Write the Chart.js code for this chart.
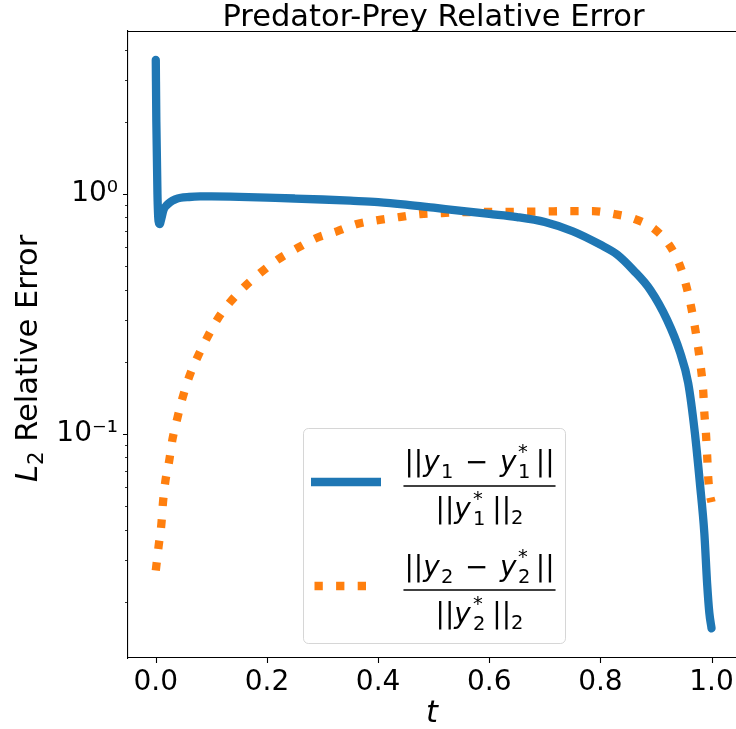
<!DOCTYPE html>
<html lang="en">
<head>
<meta charset="UTF-8" />
<title>Predator-Prey Relative Error</title>
<script src="https://cdn.jsdelivr.net/npm/chart.js@4.4.0/dist/chart.umd.min.js"></script>
<style>
  html, body { margin: 0; padding: 0; background: #fff; overflow: hidden; }
</style>
</head>
<body>
<canvas id="chart" width="736" height="729"></canvas>
<script>
// values
const tPrey = [0, 0.001, 0.003, 0.005, 0.007, 0.01, 0.014, 0.02, 0.026, 0.035, 0.045, 0.06, 0.08, 0.1, 0.15, 0.2, 0.25, 0.3, 0.35, 0.4, 0.45, 0.5, 0.55, 0.6, 0.65, 0.7, 0.75, 0.8, 0.83, 0.86, 0.89, 0.92, 0.943, 0.958, 0.97, 0.979, 0.987, 0.992, 0.996, 1.0];
const errPrey = [3.62, 2.0, 1.0, 0.77, 0.75, 0.79, 0.86, 0.9, 0.926, 0.95, 0.965, 0.972, 0.977, 0.978, 0.974, 0.966, 0.958, 0.949, 0.938, 0.926, 0.904, 0.877, 0.85, 0.826, 0.802, 0.765, 0.7, 0.615, 0.56, 0.48, 0.398, 0.299, 0.22, 0.163, 0.101, 0.0625, 0.0387, 0.0239, 0.018, 0.0155];

const tPred = [0, 0.005, 0.01, 0.013, 0.017, 0.024, 0.03, 0.039, 0.048, 0.06, 0.075, 0.092, 0.111, 0.134, 0.161, 0.19, 0.221, 0.255, 0.289, 0.327, 0.362, 0.4, 0.438, 0.476, 0.515, 0.555, 0.6, 0.65, 0.7, 0.747, 0.787, 0.825, 0.862, 0.897, 0.924, 0.942, 0.954, 0.963, 0.97, 0.976, 0.981, 0.985, 0.987, 0.99, 0.992, 0.994, 0.997, 1.0];
const errPred = [0.027, 0.034, 0.042, 0.052, 0.063, 0.077, 0.095, 0.117, 0.141, 0.173, 0.209, 0.251, 0.301, 0.355, 0.414, 0.473, 0.536, 0.596, 0.656, 0.701, 0.75, 0.779, 0.802, 0.825, 0.833, 0.841, 0.842, 0.843, 0.846, 0.849, 0.849, 0.825, 0.787, 0.715, 0.613, 0.511, 0.418, 0.341, 0.279, 0.228, 0.187, 0.151, 0.123, 0.1, 0.082, 0.066, 0.056, 0.052];

const xTicks = [0, 0.2, 0.4, 0.6, 0.8, 1.0];
const yMajor = [0.1, 1];
const yMinor = [0.02, 0.03, 0.04, 0.05, 0.06, 0.07, 0.08, 0.09, 0.2, 0.3, 0.4, 0.5, 0.6, 0.7, 0.8, 0.9, 2, 3, 4];
const yLabels = { 1: '10\u2070', 0.1: '10\u207B\u00B9' };

const BLUE = '#1f77b4';
const ORANGE = '#ff7f0e';
const FONT = '"DejaVu Sans", sans-serif';

function toPoints(xs, ys) {
  return xs.map((x, i) => ({ x: x, y: ys[i] }));
}

function font(px, italic) {
  return (italic ? 'italic ' : '') + px + 'px ' + FONT;
}

// little mathtext-ish text runs: plain, italic, sub/sup, stacked sub+sup, gaps
function runWidth(ctx, r, size) {
  if (r.gap) return r.gap * size;
  if (r.sup !== undefined) {
    ctx.font = font(size * 0.7);
    return Math.max(ctx.measureText(r.sup).width, ctx.measureText(r.sub).width);
  }
  ctx.font = font(size * (r.k || 1), r.it);
  return ctx.measureText(r.t).width;
}

function drawRuns(ctx, runs, x0, base, size, align) {
  const ws = runs.map(r => runWidth(ctx, r, size));
  const total = ws.reduce((a, b) => a + b, 0);
  let x = align === 'center' ? x0 - total / 2 : x0;
  ctx.textAlign = 'left';
  ctx.textBaseline = 'alphabetic';
  runs.forEach((r, i) => {
    if (r.sup !== undefined) {
      ctx.font = font(size * 0.7);
      ctx.fillText(r.sup, x, base - size * 0.46);
      ctx.fillText(r.sub, x, base + size * 0.26);
    } else if (!r.gap) {
      ctx.font = font(size * (r.k || 1), r.it);
      ctx.fillText(r.t, x, base + (r.dy || 0) * size);
    }
    x += ws[i];
  });
  return total;
}

function numRuns(n) {
  return [{ t: '||' }, { t: 'y', it: true }, { gap: 0.05 }, { t: n, k: 0.7, dy: 0.26 }, { gap: 0.42 }, { t: '\u2212' }, { gap: 0.42 }, { t: 'y', it: true }, { gap: 0.05 }, { sup: '*', sub: n }, { gap: 0.2 }, { t: '||' }];
}
function denRuns(n) {
  return [{ t: '||' }, { t: 'y', it: true }, { gap: 0.08 }, { sup: '*', sub: n }, { gap: 0.25 }, { t: '||' }, { t: '2', k: 0.7, dy: 0.2 }];
}

const legendItems = [
  { color: BLUE, dash: [], num: numRuns('1'), den: denRuns('1'), handleY: 482, numBase: 471, barY: 486, denBase: 518 },
  { color: ORANGE, dash: [8.3, 13.3], num: numRuns('2'), den: denRuns('2'), handleY: 586, numBase: 576, barY: 590, denBase: 623 }
];

const decorPlugin = {
  id: 'decor',
  afterDraw(chart) {
    const { ctx, chartArea: a, scales: { x, y } } = chart;
    ctx.save();
    ctx.fillStyle = '#000';
    ctx.strokeStyle = '#000';

    // title
    ctx.font = font(30.5);
    ctx.textAlign = 'center';
    ctx.textBaseline = 'alphabetic';
    ctx.fillText('Predator-Prey Relative Error', (a.left + 739) / 2, 26);

    // top spine
    ctx.lineWidth = 1.1;
    ctx.beginPath();
    ctx.moveTo(a.left, a.top + 0.5);
    ctx.lineTo(a.right, a.top + 0.5);
    ctx.stroke();

    // tick marks
    ctx.beginPath();
    xTicks.forEach(v => {
      const px = Math.round(x.getPixelForValue(v)) + 0.5;
      ctx.moveTo(px, a.bottom);
      ctx.lineTo(px, a.bottom + 5);
    });
    yMajor.forEach(v => {
      const py = Math.round(y.getPixelForValue(v)) + 0.5;
      ctx.moveTo(a.left, py);
      ctx.lineTo(a.left - 5, py);
    });
    ctx.stroke();
    ctx.lineWidth = 0.8;
    ctx.beginPath();
    yMinor.forEach(v => {
      const py = Math.round(y.getPixelForValue(v)) + 0.5;
      ctx.moveTo(a.left, py);
      ctx.lineTo(a.left - 3, py);
    });
    ctx.stroke();

    // y axis label with subscript
    ctx.save();
    ctx.translate(37, 482);
    ctx.rotate(-Math.PI / 2);
    drawRuns(ctx, [{ t: 'L', it: true }, { t: '2', k: 0.7, dy: 0.2 }, { t: ' Relative Error' }], 0, 0, 30.5, 'left');
    ctx.restore();

    // legend
    ctx.fillStyle = 'rgba(255,255,255,0.8)';
    ctx.strokeStyle = 'rgba(204,204,204,0.8)';
    ctx.lineWidth = 1;
    ctx.beginPath();
    ctx.roundRect(303.5, 428.5, 262, 215, 5);
    ctx.fill();
    ctx.stroke();

    legendItems.forEach(it => {
      ctx.strokeStyle = it.color;
      ctx.lineWidth = 8.3;
      ctx.lineCap = 'butt';
      ctx.setLineDash(it.dash);
      ctx.beginPath();
      if (it.dash.length) {
        ctx.moveTo(314.5, it.handleY);
        ctx.lineTo(379, it.handleY);
      } else {
        ctx.moveTo(311, it.handleY);
        ctx.lineTo(381, it.handleY);
      }
      ctx.stroke();
      ctx.setLineDash([]);

      ctx.fillStyle = '#000';
      const cx = 479.5;
      const nw = drawRuns(ctx, it.num, cx, it.numBase, 27.8, 'center');
      const dw = drawRuns(ctx, it.den, cx, it.denBase, 27.8, 'center');
      const bw = Math.max(nw, dw) + 2;
      ctx.strokeStyle = '#000';
      ctx.lineWidth = 1.3;
      ctx.beginPath();
      ctx.moveTo(cx - bw / 2, it.barY);
      ctx.lineTo(cx + bw / 2, it.barY);
      ctx.stroke();
    });

    ctx.restore();
  }
};

const ctx = document.getElementById('chart').getContext('2d');
const chart = new Chart(ctx, {
  type: 'scatter',
  data: {
    datasets: [
      {
        label: 'prey',
        data: toPoints(tPrey, errPrey),
        showLine: true,
        borderColor: BLUE,
        backgroundColor: BLUE,
        borderWidth: 8.3,
        borderCapStyle: 'round',
        borderJoinStyle: 'round',
        cubicInterpolationMode: 'monotone',
        pointRadius: 0
      },
      {
        label: 'predator',
        data: toPoints(tPred, errPred),
        showLine: true,
        borderColor: ORANGE,
        backgroundColor: ORANGE,
        borderWidth: 8.3,
        borderDash: [8.3, 13.3],
        borderCapStyle: 'butt',
        cubicInterpolationMode: 'monotone',
        pointRadius: 0
      }
    ]
  },
  options: {
    responsive: false,
    animation: false,
    devicePixelRatio: 1,
    layout: { padding: { top: 31, left: 0, right: 0, bottom: 0 } },
    plugins: {
      legend: { display: false },
      tooltip: { enabled: false },
      title: { display: false }
    },
    scales: {
      x: {
        type: 'linear',
        min: -0.05,
        max: 1.044,
        grid: { display: false, drawTicks: false },
        border: { display: true, color: '#000', width: 1.1 },
        afterBuildTicks: s => { s.ticks = xTicks.map(v => ({ value: v })); },
        afterFit: s => { s.height = 71; s.paddingLeft = 0; s.paddingRight = 0; },
        ticks: {
          autoSkip: false,
          maxRotation: 0,
          padding: 8,
          color: '#000',
          font: { family: FONT, size: 28 },
          callback: v => v.toFixed(1)
        },
        title: {
          display: true,
          text: 't',
          color: '#000',
          padding: { top: 0, bottom: -3 },
          font: { family: FONT, size: 30.5, style: 'italic' }
        }
      },
      y: {
        type: 'logarithmic',
        min: 0.01166,
        max: 4.78,
        grid: { display: false, drawTicks: false },
        border: { display: true, color: '#000', width: 1.1 },
        afterBuildTicks: s => { s.ticks = yMajor.concat(yMinor).sort((p, q) => p - q).map(v => ({ value: v })); },
        afterFit: s => { s.width = 128; s.paddingTop = 0; s.paddingBottom = 0; },
        ticks: {
          autoSkip: false,
          padding: 10,
          color: '#000',
          font: { family: FONT, size: 28 },
          callback: v => yLabels[v] || ''
        }
      }
    }
  },
  plugins: [decorPlugin]
});
</script>
</body>
</html>
